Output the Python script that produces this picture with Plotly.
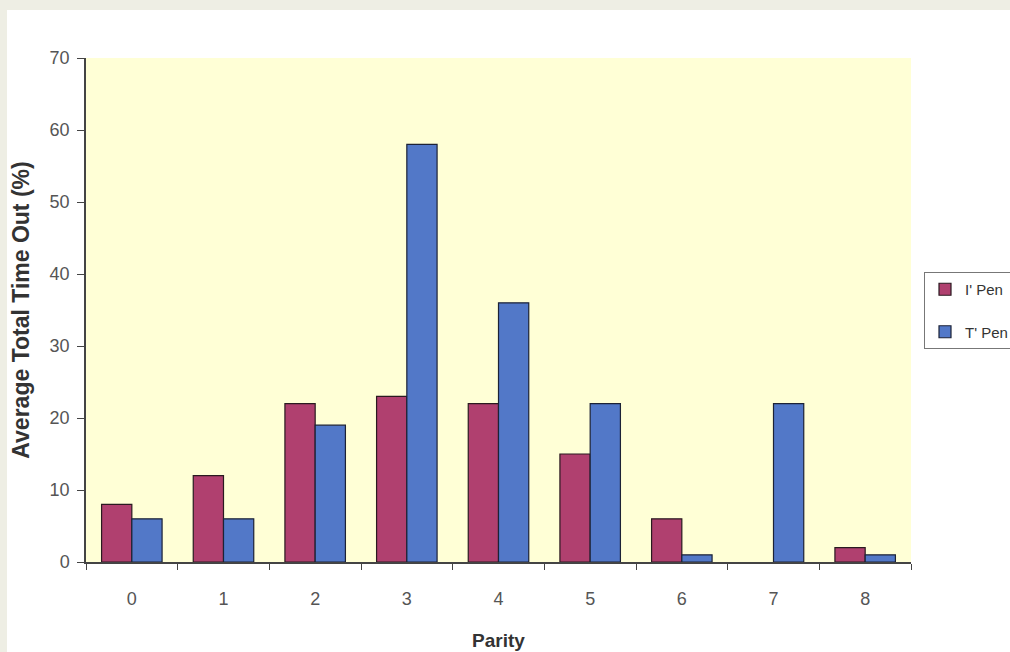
import plotly.graph_objects as go

# Parity categories and the average total time-out (%) for each pen group
parity = ["0", "1", "2", "3", "4", "5", "6", "7", "8"]
i_pen = [8, 12, 22, 23, 22, 15, 6, 0, 2]
t_pen = [6, 6, 19, 58, 36, 22, 1, 22, 1]
y_ticks = [0, 10, 20, 30, 40, 50, 60, 70]

W, H = 1010, 652
L, R, T, B = 86, 99, 58, 90
pw, ph = W - L - R, H - T - B


def px_x(px):
    return (px - L) / pw


def px_y(py):
    return (H - B - py) / ph


def outline(values, width=1.2):
    # no outline on empty bars so a zero value draws nothing
    return [width if v > 0 else 0 for v in values]


fig = go.Figure()
fig.add_trace(go.Bar(
    x=parity, y=i_pen, name="I' Pen", legendgroup="i",
    marker=dict(color="#B0406F",
                line=dict(color="#2a1a20", width=outline(i_pen))),
))
fig.add_trace(go.Bar(
    x=parity, y=t_pen, name="T' Pen", legendgroup="t",
    marker=dict(color="#5278C8",
                line=dict(color="#1c2236", width=outline(t_pen))),
))

# light grey frame around the white chart page
frame = "#EEEEE4"
fig.add_shape(type="rect", xref="paper", yref="paper", layer="below",
              x0=px_x(0), x1=px_x(7), y0=px_y(H), y1=px_y(0),
              fillcolor=frame, line_width=0)
fig.add_shape(type="rect", xref="paper", yref="paper", layer="below",
              x0=px_x(0), x1=px_x(W), y0=px_y(10), y1=px_y(0),
              fillcolor=frame, line_width=0)

font = "Liberation Sans, Arial, sans-serif"
fig.update_layout(
    width=W, height=H,
    margin=dict(l=L, r=R, t=T, b=B, autoexpand=False),
    paper_bgcolor="white",
    plot_bgcolor="#FFFFD6",
    barmode="group",
    bargap=0.34,
    bargroupgap=0,
    font=dict(family=font, size=18, color="#555555"),
    showlegend=True,
    legend=dict(
        x=px_x(924), y=px_y(272), xanchor="left", yanchor="top",
        bgcolor="white", bordercolor="#777777", borderwidth=1,
        font=dict(size=15, color="#333333"),
        itemwidth=30, traceorder="grouped", tracegroupgap=20,
    ),
    xaxis=dict(
        type="category",
        tickson="boundaries",
        ticks="outside", ticklen=6, tickcolor="#444444",
        showline=True, linecolor="#444444", linewidth=1.5,
        showgrid=False,
        ticklabelstandoff=20,
        tickfont=dict(size=18, color="#555555"),
        title=dict(text="<b>Parity</b>", font=dict(size=19, color="#333333"), standoff=25),
    ),
    yaxis=dict(
        range=[0, 70],
        tickvals=y_ticks,
        ticks="outside", ticklen=7, tickcolor="#444444",
        showline=True, linecolor="#444444", linewidth=1.5,
        showgrid=False, zeroline=False,
        ticklabelstandoff=4,
        tickfont=dict(size=18, color="#555555"),
        title=dict(text="<b>Average Total Time Out (%)</b>",
                   font=dict(size=23, color="#333333"), standoff=14),
    ),
)

fig.write_html("out.html")
